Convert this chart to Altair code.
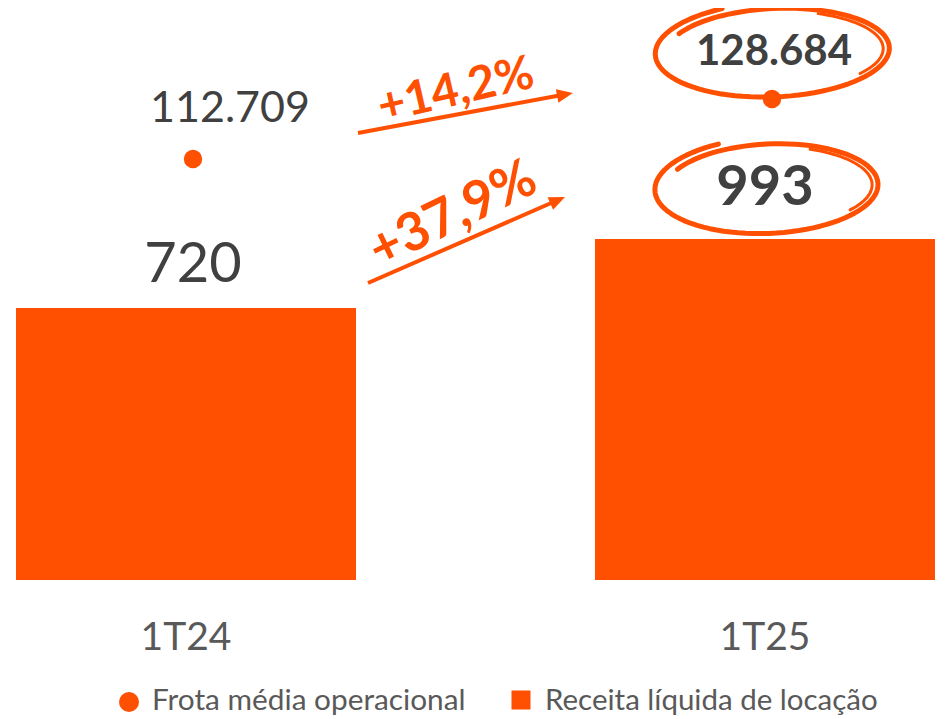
import math
import altair as alt
import pandas as pd

# ---------------- data ----------------
periods = ["1T24", "1T25"]
receita = [720, 993]                 # Receita líquida de locação
frota = [112709, 128684]             # Frota média operacional
receita_labels = ["720", "993"]
frota_labels = ["112.709", "128.684"]
growth_labels = ["+14,2%", "+37,9%"]  # frota, receita
legend_labels = ["Frota média operacional", "Receita líquida de locação"]

# ---------------- style ----------------
ORANGE = "#FE5000"
DARK = "#404040"
GRAY = "#595959"
FONT = "Lato"
W, H = 932, 711
BAR_BASE = -356  # value axis minimum of the bar series

df = pd.DataFrame({
    "period": periods,
    "receita": receita,
    "frota": frota,
    "receita_label": receita_labels,
    "frota_label": frota_labels,
})

X = alt.X("period:N", sort=periods, axis=None,
          scale=alt.Scale(domain=periods, paddingInner=0.41278,
                          paddingOuter=0.01124, align=0.615))
Y_BAR = alt.Y("receita:Q", axis=None,
              scale=alt.Scale(domain=[BAR_BASE, 993], range=[572, 231]))
Y_FROTA = alt.Y("frota:Q", axis=None,
                scale=alt.Scale(domain=[112709, 128684], range=[151, 91]))

base = alt.Chart(df)


def _path(pts):
    return " ".join(f"{'M' if i == 0 else 'L'} {x:.4f} {y:.4f}" for i, (x, y) in enumerate(pts))


def sketch_ellipse(ry, tilt_deg=-2.0):
    """hand-drawn looking loop with overshooting ends, in unit symbol coordinates"""
    a = math.radians(tilt_deg)
    t0, t1 = math.radians(210), math.radians(210 + 395)
    n = 100
    pts = []
    for i in range(n + 1):
        f = i / n
        t = t0 + (t1 - t0) * f
        s = 0.94 + 0.1 * f
        x = math.cos(t) * s
        y = math.sin(t) * ry * (0.9 + 0.16 * f)
        pts.append((x * math.cos(a) - y * math.sin(a), x * math.sin(a) + y * math.cos(a)))
    return _path(pts)


def sketch_inner(ry, tilt_deg=-2.0):
    a = math.radians(tilt_deg)
    t0, t1 = math.radians(295), math.radians(400)
    n = 36
    pts = []
    for i in range(n + 1):
        f = i / n
        t = t0 + (t1 - t0) * f
        x = math.cos(t) * (0.9 + 0.04 * f)
        y = math.sin(t) * ry * 0.86
        pts.append((x * math.cos(a) - y * math.sin(a), x * math.sin(a) + y * math.cos(a)))
    return _path(pts)


ARROW_HEAD = "M 1 0 L -1 -0.85 L -1 0.85 Z"

bars = base.mark_bar(color=ORANGE).encode(x=X, y=Y_BAR, y2=alt.datum(BAR_BASE))

dots = base.mark_circle(color=ORANGE, size=340, opacity=1, xOffset=7).encode(x=X, y=Y_FROTA)

frota_txt_1 = base.transform_filter(alt.datum.period == periods[0]).mark_text(
    font=FONT, fontSize=43, color=DARK, dx=44, dy=-50, baseline="middle"
).encode(x=X, y=Y_FROTA, text="frota_label:N")

frota_txt_2 = base.transform_filter(alt.datum.period == periods[1]).mark_text(
    font=FONT, fontSize=42, fontWeight="bold", color=DARK, dx=9, dy=-47, baseline="middle"
).encode(x=X, y=Y_FROTA, text="frota_label:N")

rec_txt_1 = base.transform_filter(alt.datum.period == periods[0]).mark_text(
    font=FONT, fontSize=56, color=DARK, dx=7, dy=-43, baseline="middle"
).encode(x=X, y=Y_BAR, text="receita_label:N")

rec_txt_2 = base.transform_filter(alt.datum.period == periods[1]).mark_text(
    font=FONT, fontSize=56, fontWeight="bold", color=DARK, dx=0, dy=-51, baseline="middle"
).encode(x=X, y=Y_BAR, text="receita_label:N")

last = base.transform_filter(alt.datum.period == periods[1])

ell_frota = last.mark_point(
    shape=sketch_ellipse(0.393), filled=False, stroke=ORANGE, strokeWidth=5,
    strokeCap="round", strokeJoin="round",
    size=234 ** 2, opacity=1, xOffset=10, yOffset=-48
).encode(x=X, y=Y_FROTA)
ell_frota_in = last.mark_point(
    shape=sketch_inner(0.393), filled=False, stroke=ORANGE, strokeWidth=3,
    strokeCap="round", size=234 ** 2, opacity=1, xOffset=10, yOffset=-48
).encode(x=X, y=Y_FROTA)

ell_rec = last.mark_point(
    shape=sketch_ellipse(0.417), filled=False, stroke=ORANGE, strokeWidth=5,
    strokeCap="round", strokeJoin="round",
    size=223 ** 2, opacity=1, xOffset=4, yOffset=-52
).encode(x=X, y=Y_BAR)
ell_rec_in = last.mark_point(
    shape=sketch_inner(0.417), filled=False, stroke=ORANGE, strokeWidth=3,
    strokeCap="round", size=223 ** 2, opacity=1, xOffset=4, yOffset=-52
).encode(x=X, y=Y_BAR)

cat_txt = base.mark_text(font=FONT, fontSize=39, color=GRAY, baseline="middle").encode(
    x=X, y=alt.value(630), text="period:N")

# ---------------- growth annotations ----------------
g1 = pd.DataFrame({"label": [growth_labels[0]]})
g2 = pd.DataFrame({"label": [growth_labels[1]]})

arrow1_line = alt.Chart(g1).mark_rule(color=ORANGE, strokeWidth=4).encode(
    x=alt.value(350), y=alt.value(125), x2=alt.value(558), y2=alt.value(86.2))
arrow1_head = alt.Chart(g1).mark_point(
    shape=ARROW_HEAD, filled=True, color=ORANGE, opacity=1, size=256, angle=349.5
).encode(x=alt.value(557), y=alt.value(86.5))
arrow1_txt = alt.Chart(g1).mark_text(
    font=FONT, fontSize=47, fontWeight="bold", color=ORANGE, angle=347,
    align="center", baseline="middle"
).encode(x=alt.value(448), y=alt.value(83), text="label:N")

arrow2_line = alt.Chart(g2).mark_rule(color=ORANGE, strokeWidth=4).encode(
    x=alt.value(360), y=alt.value(275), x2=alt.value(550), y2=alt.value(192))
arrow2_head = alt.Chart(g2).mark_point(
    shape=ARROW_HEAD, filled=True, color=ORANGE, opacity=1, size=256, angle=336.4
).encode(x=alt.value(549.7), y=alt.value(192.2))
arrow2_txt = alt.Chart(g2).mark_text(
    font=FONT, fontSize=53, fontWeight="bold", color=ORANGE, angle=334,
    align="center", baseline="middle"
).encode(x=alt.value(445), y=alt.value(207), text="label:N")

# ---------------- legend ----------------
l1 = pd.DataFrame({"label": [legend_labels[0]]})
l2 = pd.DataFrame({"label": [legend_labels[1]]})
leg_dot = alt.Chart(l1).mark_circle(color=ORANGE, size=400, opacity=1).encode(
    x=alt.value(121), y=alt.value(694))
leg_txt1 = alt.Chart(l1).mark_text(font=FONT, fontSize=29.8, color=GRAY, align="left",
                                   baseline="middle").encode(
    x=alt.value(144), y=alt.value(693), text="label:N")
leg_sq = alt.Chart(l2).mark_square(color=ORANGE, size=361, opacity=1).encode(
    x=alt.value(513), y=alt.value(692))
leg_txt2 = alt.Chart(l2).mark_text(font=FONT, fontSize=29.5, color=GRAY, align="left",
                                   baseline="middle").encode(
    x=alt.value(537), y=alt.value(693), text="label:N")

chart = alt.layer(
    bars, dots, ell_frota, ell_frota_in, ell_rec, ell_rec_in,
    frota_txt_1, frota_txt_2, rec_txt_1, rec_txt_2, cat_txt,
    arrow1_line, arrow1_head, arrow1_txt, arrow2_line, arrow2_head, arrow2_txt,
    leg_dot, leg_txt1, leg_sq, leg_txt2,
).resolve_scale(y="independent").properties(
    width=W, height=H, padding=0, autosize=alt.AutoSizeParams(type="none"),
    background="white",
).configure_view(stroke=None)

chart.save("out.html", embed_options={"renderer": "svg", "actions": False})
